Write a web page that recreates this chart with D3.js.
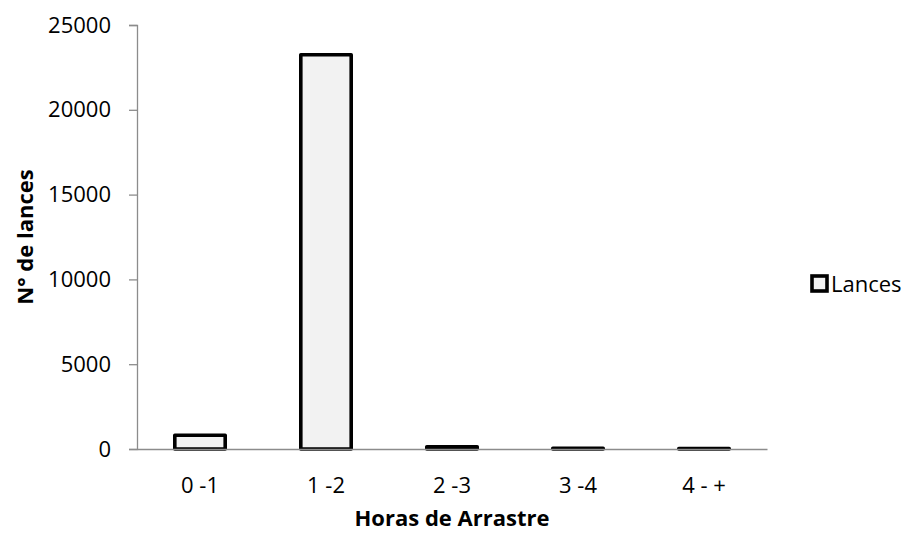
<!DOCTYPE html>
<html>
<head>
<meta charset="utf-8">
<script src="https://cdn.jsdelivr.net/npm/d3@7"></script>
<style>
  html, body { margin: 0; padding: 0; background: #fff; }
  svg { display: block; font-family: "Open Sans", "Liberation Sans", sans-serif; }
</style>
</head>
<body>
<svg id="chart" width="907" height="533"></svg>
<script>
// Hauls per trawl-duration class
const categories = ["0 -1", "1 -2", "2 -3", "3 -4", "4 - +"];
const lances = [810, 23250, 130, 40, 30];
const yTicks = [0, 5000, 10000, 15000, 20000, 25000];
const seriesName = "Lances";

const FONT = 22;
const svg = d3.select("#chart");
const margin = { left: 137, right: 140, top: 25, bottom: 84 };
const W = 907, H = 533;
const plotW = W - margin.left - margin.right;
const plotH = H - margin.top - margin.bottom;

const x = d3.scaleBand().domain(categories).range([0, plotW]).paddingInner(0.6).paddingOuter(0.3);
const y = d3.scaleLinear().domain([0, 25000]).range([plotH, 0]);

const g = svg.append("g").attr("transform", `translate(${margin.left},${margin.top})`);

// Y axis with outward ticks
const yAxis = g.append("g")
  .call(d3.axisLeft(y).tickValues(yTicks).tickSize(8).tickPadding(18).tickFormat(d3.format("d")));
yAxis.select(".domain").attr("stroke", "#8c8c8c").attr("stroke-width", 1.3);
yAxis.selectAll(".tick line").attr("stroke", "#8c8c8c").attr("stroke-width", 1.3);
yAxis.selectAll(".tick text").attr("font-size", FONT).attr("fill", "#000")
  .attr("font-family", "Open Sans, sans-serif");

// Bars
g.selectAll("rect.bar").data(lances).join("rect")
  .attr("class", "bar")
  .attr("x", (d, i) => x(categories[i]))
  .attr("width", x.bandwidth())
  .attr("y", d => y(d))
  .attr("height", d => y(0) - y(d))
  .attr("fill", "#f2f2f2")
  .attr("stroke", "#000")
  .attr("stroke-width", 3.6)
  .attr("stroke-linejoin", "round");

// X axis (no ticks)
const xAxis = g.append("g").attr("transform", `translate(0,${plotH})`)
  .call(d3.axisBottom(x).tickSize(0).tickPadding(28));
xAxis.select(".domain").attr("stroke", "#8c8c8c").attr("stroke-width", 1.3);
xAxis.selectAll(".tick text").attr("font-size", FONT).attr("fill", "#000")
  .attr("font-family", "Open Sans, sans-serif");

// Axis titles
svg.append("text")
  .attr("x", margin.left + plotW / 2).attr("y", 526)
  .attr("text-anchor", "middle").attr("font-size", FONT).attr("font-weight", "bold")
  .text("Horas de Arrastre");

svg.append("text")
  .attr("transform", `translate(33,${margin.top + plotH / 2}) rotate(-90)`)
  .attr("text-anchor", "middle").attr("font-size", FONT).attr("font-weight", "bold")
  .text("N° de lances");

// Legend
const leg = svg.append("g").attr("transform", "translate(812,276)");
leg.append("rect").attr("x", 0).attr("y", 0).attr("width", 15).attr("height", 15)
  .attr("fill", "#f2f2f2").attr("stroke", "#000").attr("stroke-width", 3.6);
leg.append("text").attr("x", 19).attr("y", 16).attr("font-size", FONT).text(seriesName);
</script>
</body>
</html>
